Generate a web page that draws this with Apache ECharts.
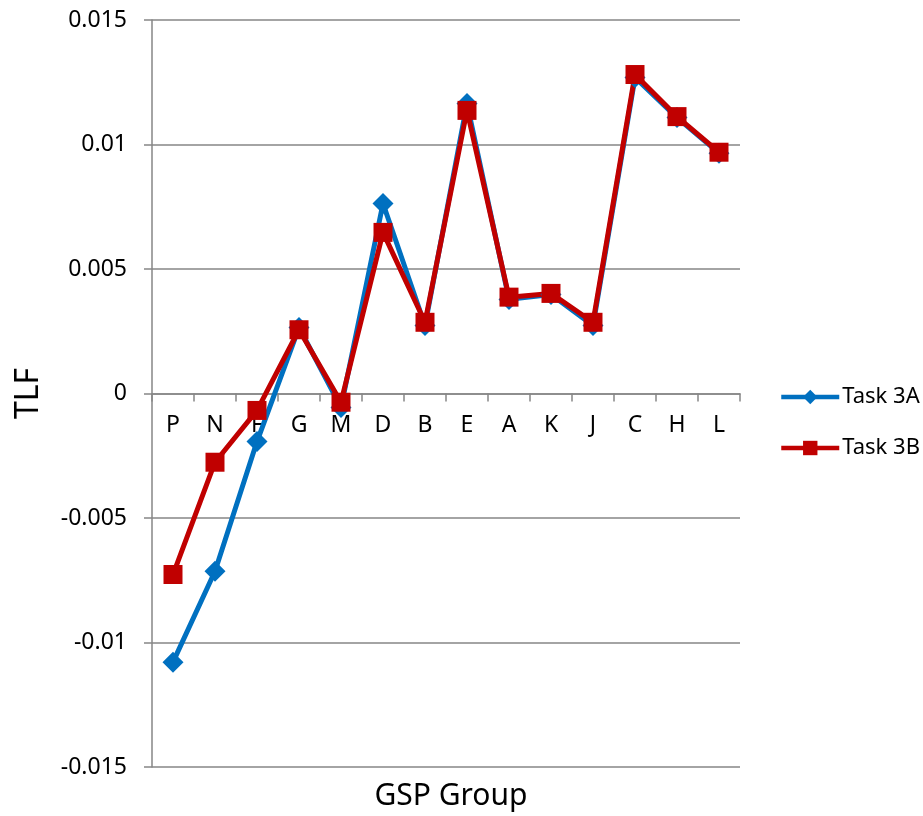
<!DOCTYPE html>
<html>
<head>
<meta charset="utf-8">
<script src="https://cdn.jsdelivr.net/npm/echarts@6/dist/echarts.min.js"></script>
<style>
  html, body { margin: 0; padding: 0; background: #fff; }
  #chart { width: 923px; height: 816px; }
</style>
</head>
<body>
<div id="chart"></div>
<script>
// values
const groups = ["P", "N", "F", "G", "M", "D", "B", "E", "A", "K", "J", "C", "H", "L"];
const task3A = [-0.01079, -0.00714, -0.00193, 0.00265, -0.00056, 0.00763, 0.00273,
                0.01165, 0.00378, 0.00398, 0.00273, 0.01269, 0.01108, 0.00965];
const task3B = [-0.00727, -0.00276, -0.00068, 0.00256, -0.00035, 0.00647, 0.00286,
                0.01137, 0.00387, 0.00402, 0.00286, 0.01281, 0.01112, 0.00969];

const FONT = "Noto Sans";
const AXIS_GREY = "#868686";
const Y_MIN = -0.015, Y_MAX = 0.015;
const GRID_TOP = 20, GRID_H = 747;

// the category axis sits on the zero line: shift it up from the bottom edge
const zeroOffset = -GRID_H * (0 - Y_MIN) / (Y_MAX - Y_MIN);

const chart = echarts.init(document.getElementById("chart"));

chart.setOption({
  animation: false,
  textStyle: { fontFamily: FONT },
  title: {
    text: "GSP Group",
    left: 446,
    textAlign: "center",
    top: 776,
    textStyle: { fontFamily: FONT, fontSize: 30, fontWeight: "normal", color: "#000" }
  },
  legend: {
    orient: "vertical",
    left: 779,
    top: 386,
    padding: 0,
    itemWidth: 58,
    itemHeight: 18,
    itemGap: 29,
    lineStyle: { width: 4.5 },
    textStyle: { fontFamily: FONT, fontSize: 22, color: "#000", padding: [0, 0, 0, -2] },
    data: ["Task 3A", "Task 3B"]
  },
  grid: { left: 152, top: GRID_TOP, width: 588, height: GRID_H, containLabel: false },
  xAxis: {
    type: "category",
    data: groups,
    boundaryGap: true,
    position: "bottom",
    offset: zeroOffset,
    axisLine: { onZero: false, lineStyle: { color: AXIS_GREY, width: 1.5 } },
    axisTick: { show: true, alignWithLabel: false, length: 8, lineStyle: { color: AXIS_GREY, width: 1.5 } },
    axisLabel: { margin: 20, fontSize: 23, color: "#000", fontFamily: FONT },
    splitLine: { show: false }
  },
  yAxis: {
    type: "value",
    min: Y_MIN,
    max: Y_MAX,
    interval: 0.005,
    name: "TLF",
    nameLocation: "middle",
    nameGap: 107,
    nameTextStyle: { fontFamily: FONT, fontSize: 32, color: "#000" },
    axisLine: { show: true, lineStyle: { color: AXIS_GREY, width: 1.5 } },
    axisTick: { show: true, length: 8, lineStyle: { color: AXIS_GREY, width: 1.5 } },
    axisLabel: {
      margin: 25,
      fontSize: 23,
      color: "#000",
      fontFamily: FONT,
      formatter: v => String(Math.round(v * 1000) / 1000)
    },
    splitLine: { show: true, lineStyle: { color: AXIS_GREY, width: 1.5 } }
  },
  series: [
    {
      name: "Task 3A",
      type: "line",
      data: task3A,
      symbol: "diamond",
      symbolSize: 21,
      showAllSymbol: true,
      itemStyle: { color: "#0070C0" },
      lineStyle: { color: "#0070C0", width: 5 }
    },
    {
      name: "Task 3B",
      type: "line",
      data: task3B,
      symbol: "rect",
      symbolSize: 19,
      showAllSymbol: true,
      itemStyle: { color: "#C00000" },
      lineStyle: { color: "#C00000", width: 5 }
    }
  ]
});
</script>
</body>
</html>
